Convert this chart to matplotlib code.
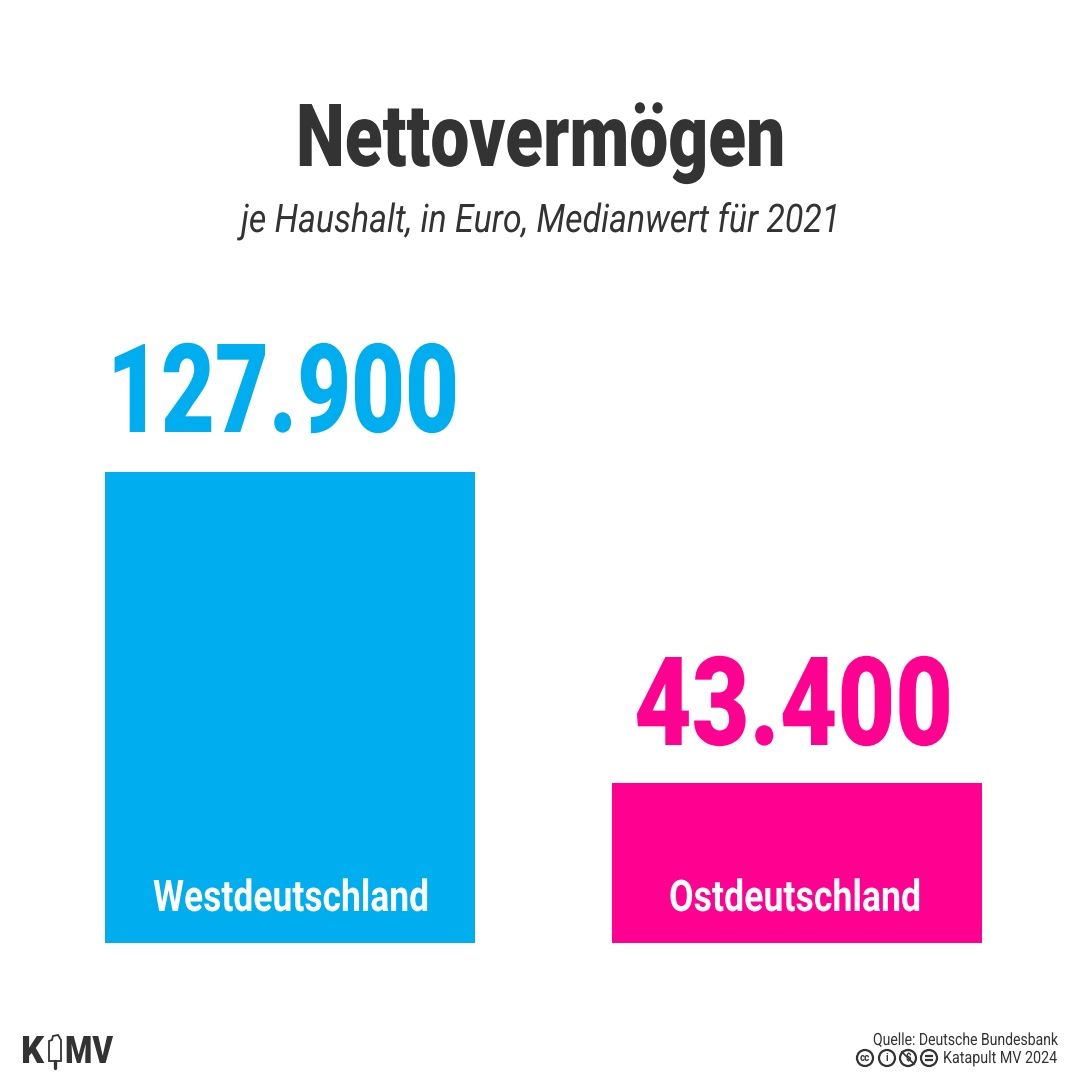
import matplotlib
matplotlib.use('Agg')
import matplotlib.pyplot as plt
import matplotlib.patheffects as pe
from matplotlib.patches import Circle, Polygon
from matplotlib.transforms import Affine2D

REGIONS = ['Westdeutschland', 'Ostdeutschland']
VALUES = [127900, 43400]
VALUE_LABELS = ['127.900', '43.400']
COLORS = ['#00aeef', '#ff0090']
DARK = '#333333'
FONT = ['Roboto', 'DejaVu Sans']
CAP = 0.711  # Roboto cap height in em

fig = plt.figure(figsize=(10.8, 10.8), dpi=100, facecolor='white')

# bars: axes spans pixel rows 943 (bottom) up to 472 (top of the tall bar)
ax = fig.add_axes([0, 1 - 943 / 1080, 1, (943 - 472) / 1080])
ax.axis('off')
ax.set_xlim(0, 1080)
ax.set_ylim(0, VALUES[0])
ax.bar([290, 796.5], VALUES, width=370, color=COLORS, zorder=1)

# overlay in pixel coordinates for text and the footer marks
bg = fig.add_axes([0, 0, 1, 1], zorder=5)
bg.patch.set_alpha(0)
bg.set_xlim(0, 1080); bg.set_ylim(1080, 0); bg.axis('off')
renderer = fig.canvas.get_renderer()


class Squeeze(pe.AbstractPathEffect):
    # no condensed font installed, so narrow the glyphs around an anchor x
    def __init__(self, sx, xa):
        super().__init__()
        self.sx, self.xa = sx, xa

    def draw_path(self, renderer, gc, tpath, affine, rgbFace=None):
        tr = affine + Affine2D().translate(-self.xa, 0).scale(self.sx, 1).translate(self.xa, 0)
        renderer.draw_path(gc, tpath, tr, rgbFace)


def fit(s, x0, x1, base, cap, color, ha='center', **kw):
    # real text: size from the cap height, horizontal squeeze from the width
    xa = x1 if ha == 'right' else (x0 + x1) / 2
    t = bg.text(xa, base, s, ha=ha, va='baseline', color=color,
                fontsize=cap / CAP * 0.72, family=FONT, **kw)
    w = t.get_window_extent(renderer).width
    t.set_path_effects([Squeeze((x1 - x0) / w, xa)])
    return t


fit('Nettovermögen', 296, 785, 166, 62, DARK, fontweight='black')
fit('je Haushalt, in Euro, Medianwert für 2021', 241, 840, 232, 28, DARK, style='italic')

fit(VALUE_LABELS[0], 107, 459, 432, 88, COLORS[0], fontweight='black')
fit(VALUE_LABELS[1], 634, 953, 745, 88, COLORS[1], fontweight='black')
fit(REGIONS[0], 153, 429, 911, 31, 'white', fontweight='bold')
fit(REGIONS[1], 669, 921, 911, 31, 'white', fontweight='bold')

fit('Quelle: Deutsche Bundesbank', 873, 1057, 1045, 12, DARK, ha='right')
fit('Katapult MV 2024', 943, 1057, 1063, 12, DARK)

# licence icons
for cx in (865, 887, 908, 929):
    bg.add_patch(Circle((cx, 1058), 8, fc='white', ec=DARK, lw=1.6))
for cx, s in zip((865, 887, 908), ('cc', 'i', '$')):
    bg.text(cx, 1058, s, ha='center', va='center', fontsize=7, color=DARK,
            fontweight='bold', family=FONT)
bg.plot([902, 914], [1052, 1064], color=DARK, lw=1.2)
for y in (1056, 1060):
    bg.plot([925, 933], [y, y], color=DARK, lw=1.6, solid_capstyle='butt')

# logo
fit('K', 21, 44, 1063, 27, DARK, fontweight='black')
fit('MV', 65, 113, 1063, 27, DARK, fontweight='black')
bg.add_patch(Polygon([(49, 1041), (52, 1040), (53, 1036), (58, 1035), (61, 1040), (61, 1061),
                      (49, 1061)], closed=True, fc='white', ec=DARK, lw=1.3))
bg.plot([55, 55], [1061, 1068], color=DARK, lw=2.4, solid_capstyle='round')

fig.savefig('out.png', dpi=100, facecolor='white')
